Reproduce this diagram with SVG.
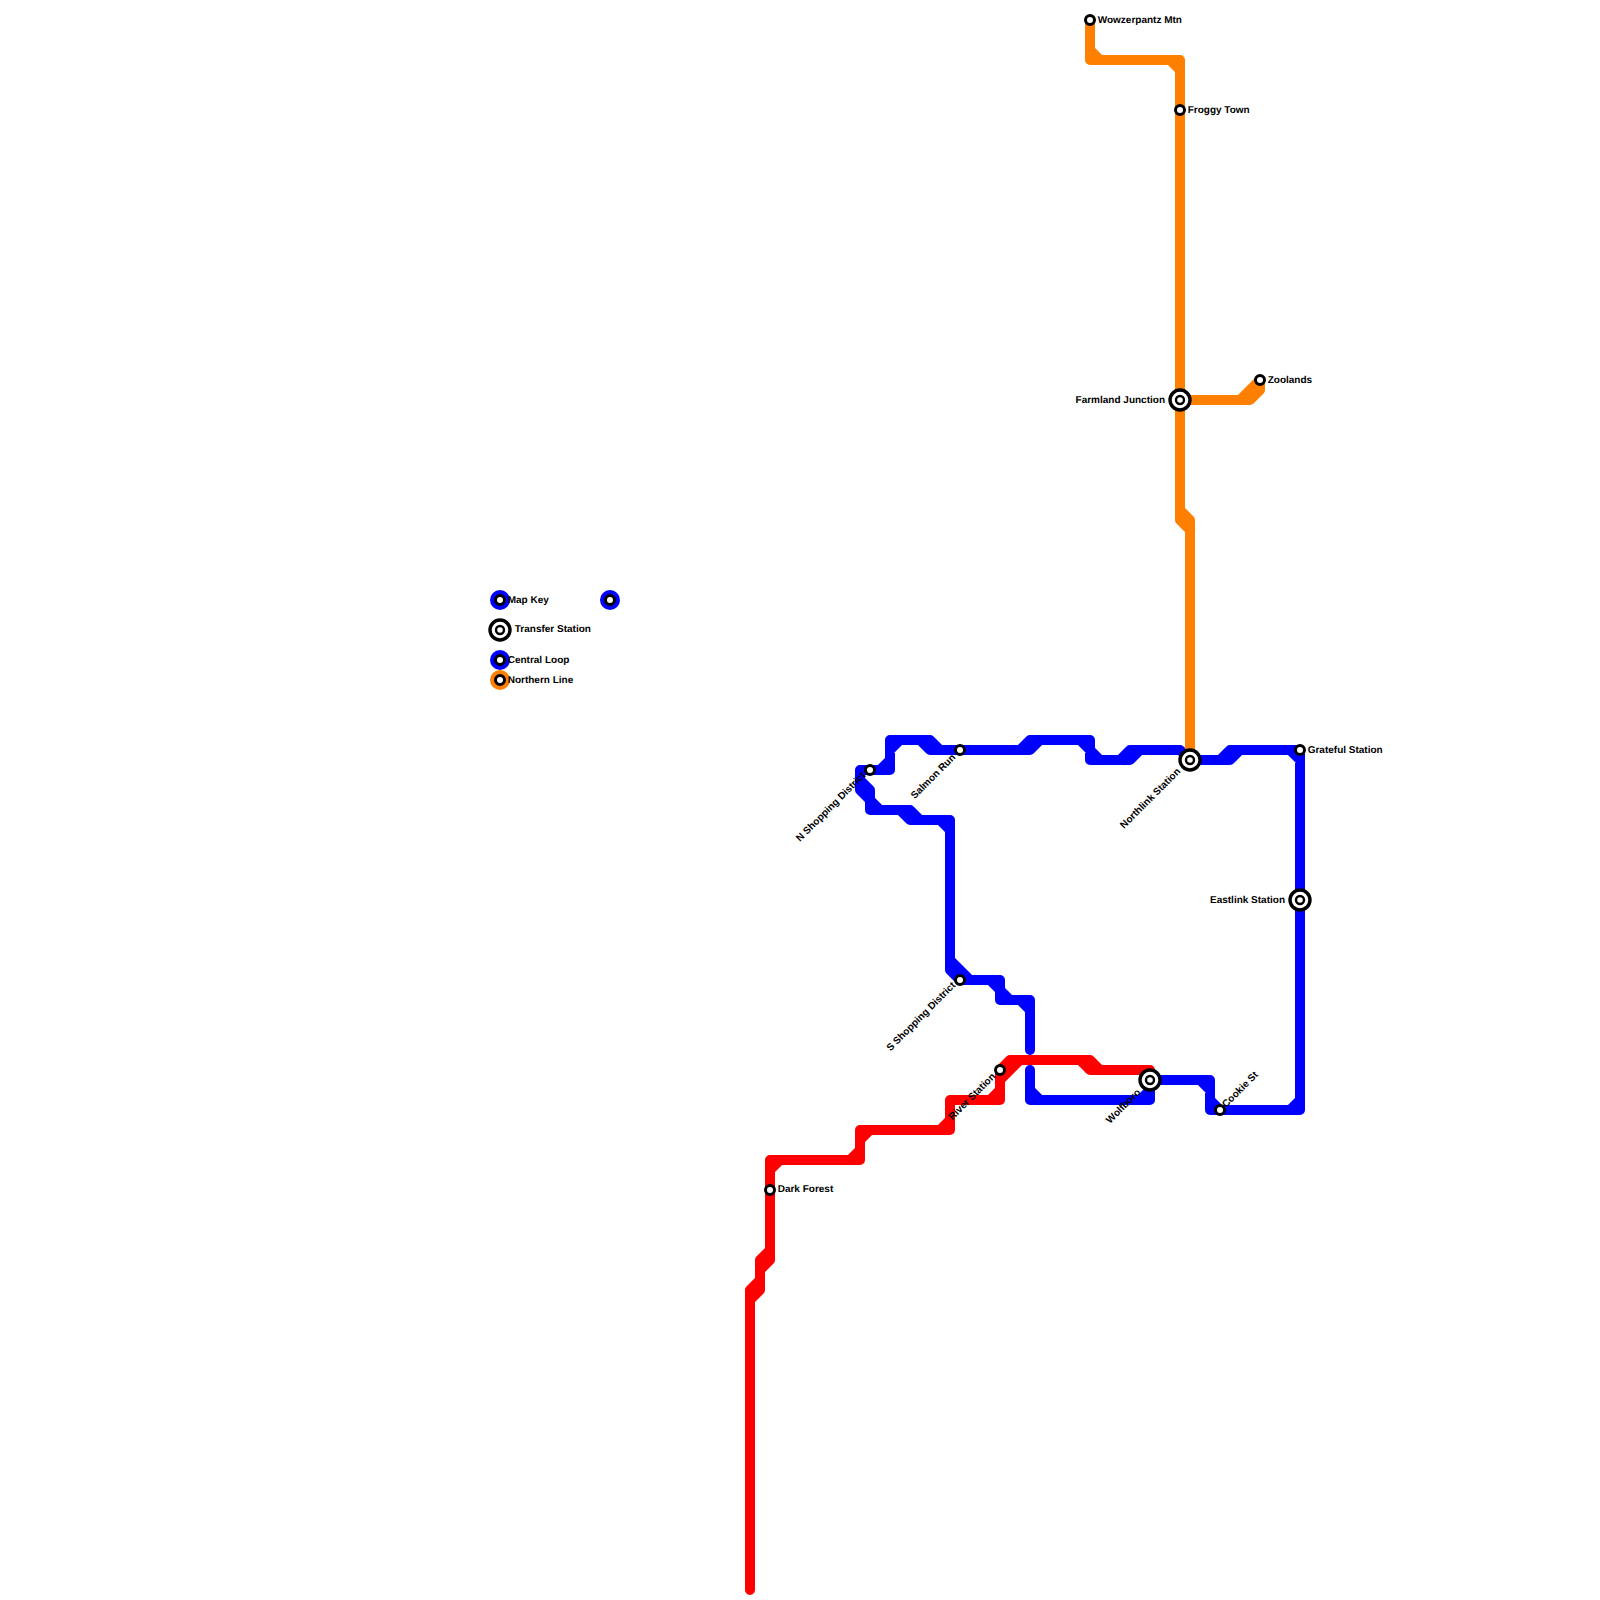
<svg xmlns="http://www.w3.org/2000/svg" width="1600" height="1600" viewBox="0 0 1600 1600">
<style>
.l{fill:none;stroke-width:10;stroke-linecap:round;stroke-linejoin:round}
.blue{stroke:#0000ff}.red{stroke:#ff0000}.orange{stroke:#ff8000}
.s{fill:#fff;stroke:#000;stroke-width:3}
.t{fill:#fff;stroke:#000;stroke-width:3.4}
.i{fill:#fff;stroke:#000;stroke-width:2.4}
text{font-family:"Liberation Sans",Arial,sans-serif;font-size:10px;font-weight:bold;fill:#000;text-rendering:geometricPrecision}
.e{text-anchor:end}
</style>
<defs>
<g id="st"><circle class="s" r="4.5"/></g>
<g id="tr"><circle class="t" r="10"/><circle class="i" r="4"/></g>
</defs>
<g id="connectors">
<path id="line-blue" class="l blue" d="M870 770H890V740H930L940 750H1030L1040 740H1090V760H1130L1140 750H1180L1190 760H1230L1240 750H1300V1110H1210V1080H1150V1100H1030V1070 M1030 1050V1000H1000V980H960L950 970V820H910L900 810H870V790L860 780V770H870 M890 750L900 740 M880 770L890 760 M920 740L930 750H940 M1020 750L1030 740H1040 M1080 740L1090 750 M1090 750L1100 760 M1120 760L1130 750H1140 M1220 760L1230 750H1240 M1290 750L1300 760 M860 780V790L870 800 M870 800L880 810 M900 810H910L920 820 M940 820L950 830 M950 960L970 980 M990 980L1000 990 M1000 990L1010 1000 M1020 1000L1030 1010 M1030 1090L1040 1100 M1140 1100L1150 1090 M1200 1080L1210 1090 M1210 1100L1220 1110 M1290 1110L1300 1100"/>
<path id="line-red" class="l red" d="M750 1590V1290L760 1280V1260L770 1250V1160H860V1130H950V1100H1000V1070L1010 1060H1090L1100 1070H1150 M770 1170L780 1160 M770 1250V1260L760 1270V1280 M760 1280V1290L750 1300 M850 1160L860 1150 M860 1140L870 1130 M940 1130L950 1120 M990 1100L1000 1090 M1000 1080L1020 1060 M1080 1060L1090 1070H1100"/>
<path id="line-orange" class="l orange" d="M1090 20V60H1180V510L1190 520V760 M1180 510V520L1190 530 M1090 50L1100 60 M1170 60L1180 70 M1180 400H1250L1260 390V380L1240 400"/>
</g>
<g id="legend">
<circle cx="500" cy="600" r="10" fill="#0000ff"/><use href="#st" x="500" y="600"/><text x="507.7" y="602.6">Map Key</text>
<circle cx="610" cy="600" r="10" fill="#0000ff"/><use href="#st" x="610" y="600"/>
<use href="#tr" x="500" y="630"/><text x="514.8" y="632">Transfer Station</text>
<circle cx="500" cy="660" r="10" fill="#0000ff"/><use href="#st" x="500" y="660"/><text x="507.7" y="662.6">Central Loop</text>
<circle cx="500" cy="680" r="10" fill="#ff8000"/><use href="#st" x="500" y="680"/><text x="507.7" y="682.6">Northern Line</text>
</g>
<g id="wowzerpantz"><use href="#st" x="1090" y="20"/><text x="1097.7" y="22.8">Wowzerpantz Mtn</text></g>
<g id="froggy"><use href="#st" x="1180" y="110"/><text x="1187.7" y="112.6">Froggy Town</text></g>
<g id="farmland"><use href="#tr" x="1180" y="400"/><text class="e" x="1165" y="402.6">Farmland Junction</text></g>
<g id="zoolands"><use href="#st" x="1260" y="380"/><text x="1267.7" y="382.6">Zoolands</text></g>
<g id="grateful"><use href="#st" x="1300" y="750"/><text x="1307.7" y="752.6">Grateful Station</text></g>
<g id="eastlink"><use href="#tr" x="1300" y="900"/><text class="e" x="1285" y="902.6">Eastlink Station</text></g>
<g id="northlink"><use href="#tr" x="1190" y="760"/><text class="e" transform="rotate(-45 1181 772)" x="1181" y="772">Northlink Station</text></g>
<g id="salmon"><use href="#st" x="960" y="750"/><text class="e" transform="rotate(-45 956 758)" x="956" y="758">Salmon Run</text></g>
<g id="nshopping"><use href="#st" x="870" y="770"/><text class="e" transform="rotate(-45 866 776)" x="866" y="776">N Shopping District</text></g>
<g id="sshopping"><use href="#st" x="960" y="980"/><text class="e" transform="rotate(-45 956 986)" x="956" y="986">S Shopping District</text></g>
<g id="river"><use href="#st" x="1000" y="1070"/><text class="e" transform="rotate(-45 996 1077)" x="996" y="1077">River Station</text></g>
<g id="wolfboro"><use href="#tr" x="1150" y="1080"/><text class="e" transform="rotate(-45 1141 1093)" x="1141" y="1093">Wolfboro</text></g>
<g id="cookie"><use href="#st" x="1220" y="1110"/><text transform="rotate(-45 1226 1108)" x="1226" y="1108">Cookie St</text></g>
<g id="darkforest"><use href="#st" x="770" y="1190"/><text x="777.7" y="1192">Dark Forest</text></g>
</svg>
